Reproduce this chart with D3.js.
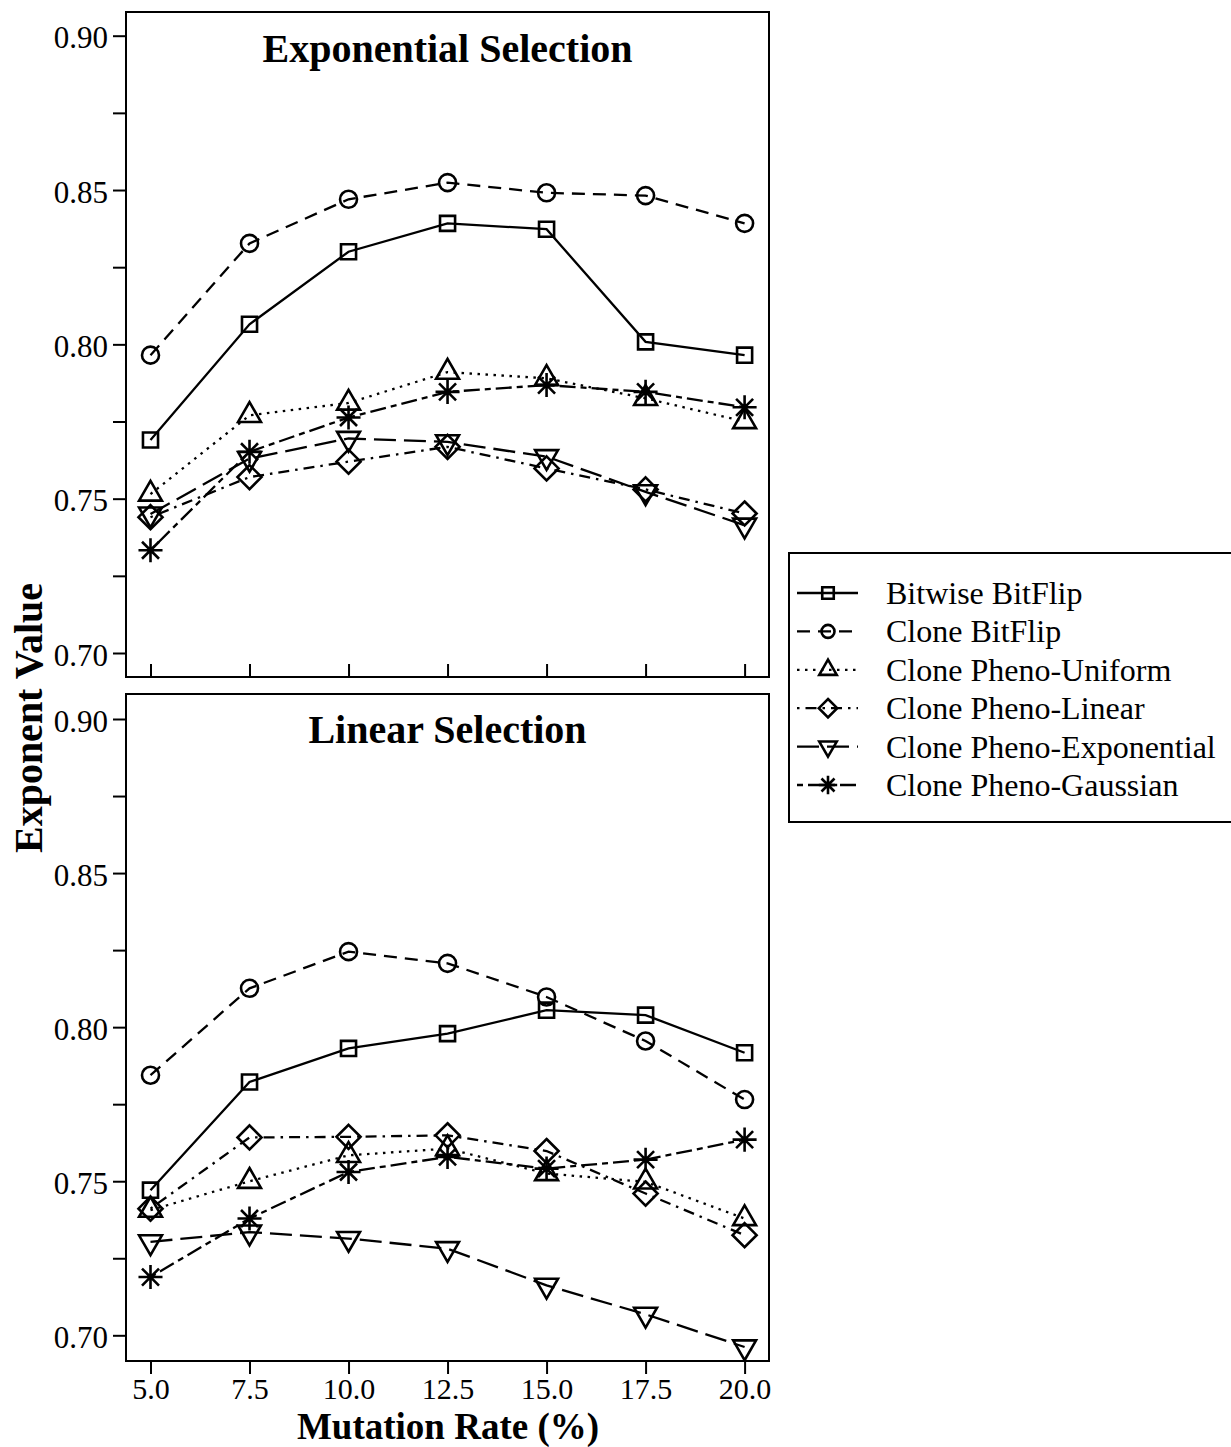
<!DOCTYPE html>
<html>
<head>
<meta charset="utf-8">
<script src="https://cdn.jsdelivr.net/npm/d3@7"></script>
<style>
  html, body { margin: 0; padding: 0; background: #fff; }
  svg { display: block; }
  text { font-family: "Liberation Serif", "Times New Roman", serif; fill: #000; }
</style>
</head>
<body>
<svg id="chart" width="1231" height="1447"></svg>
<script>
// Mutation rates (%) on the x axis
const rates = [5.0, 7.5, 10.0, 12.5, 15.0, 17.5, 20.0];

// Series names
const seriesNames = [
  "Bitwise BitFlip",
  "Clone BitFlip",
  "Clone Pheno-Uniform",
  "Clone Pheno-Linear",
  "Clone Pheno-Exponential",
  "Clone Pheno-Gaussian"
];

// Exponential selection
const expBitwiseBitFlip   = [0.769, 0.8065, 0.830, 0.8392, 0.8373, 0.8008, 0.7965];
const expCloneBitFlip     = [0.7965, 0.8327, 0.847, 0.8524, 0.8491, 0.8482, 0.8392];
const expPhenoUniform     = [0.7515, 0.777, 0.781, 0.791, 0.789, 0.7825, 0.775];
const expPhenoLinear      = [0.744, 0.757, 0.762, 0.7668, 0.7598, 0.753, 0.7452];
const expPhenoExponential = [0.745, 0.763, 0.7695, 0.7684, 0.7636, 0.7522, 0.7414];
const expPhenoGaussian    = [0.7333, 0.7652, 0.7763, 0.7846, 0.7868, 0.7846, 0.7796];

// Linear selection
const linBitwiseBitFlip   = [0.7471, 0.7822, 0.7931, 0.7979, 0.8055, 0.8039, 0.7917];
const linCloneBitFlip     = [0.7844, 0.8126, 0.8245, 0.8207, 0.8098, 0.7955, 0.7765];
const linPhenoUniform     = [0.7406, 0.7500, 0.7584, 0.7606, 0.7525, 0.7498, 0.7379];
const linPhenoLinear      = [0.7411, 0.7642, 0.7644, 0.7649, 0.7598, 0.746, 0.7325];
const linPhenoExponential = [0.7303, 0.7335, 0.7314, 0.7281, 0.7162, 0.7068, 0.6962];
const linPhenoGaussian    = [0.7189, 0.7379, 0.753, 0.7579, 0.7541, 0.757, 0.7635];

// Axis ticks
const yTicks = [0.70, 0.725, 0.75, 0.775, 0.80, 0.825, 0.85, 0.875, 0.90];
const yTickLabels = ["0.70", "", "0.75", "", "0.80", "", "0.85", "", "0.90"];
const xTickLabels = ["5.0", "7.5", "10.0", "12.5", "15.0", "17.5", "20.0"];

// Panel titles and axis titles
const panelTitles = ["Exponential Selection", "Linear Selection"];
const xTitle = "Mutation Rate (%)";
const yTitle = "Exponent Value";

// ---- styling ----
const dashes = [null, "13,8", "2.5,5.5", "2.5,6,11,6", "22,8", "6,5,16,5"];
const markers = ["square", "circle", "triangle", "diamond", "triangleDown", "asterisk"];

const svg = d3.select("#chart");
svg.append("rect").attr("width", 1231).attr("height", 1447).attr("fill", "#fff");

const boxLeft = 126, boxRight = 769;
const panels = [
  { top: 12, bottom: 677, yRange: [653, 35.7], titleY: 62, inwardTicks: true,
    data: [expBitwiseBitFlip, expCloneBitFlip, expPhenoUniform, expPhenoLinear, expPhenoExponential, expPhenoGaussian] },
  { top: 694, bottom: 1361, yRange: [1335.3, 719], titleY: 743, inwardTicks: false,
    data: [linBitwiseBitFlip, linCloneBitFlip, linPhenoUniform, linPhenoLinear, linPhenoExponential, linPhenoGaussian] }
];

const x = d3.scaleLinear().domain([5, 20]).range([150.5, 744.6]);

// Marker path generator; s is the base symbol radius
function markerPath(type, s) {
  const p = d3.path();
  switch (type) {
    case "square": {
      const h = 0.886 * s;
      p.rect(-h, -h, 2 * h, 2 * h);
      break;
    }
    case "circle":
      p.moveTo(s, 0); p.arc(0, 0, s, 0, 2 * Math.PI); p.closePath();
      break;
    case "triangle": {
      const r = 1.555 * s, xc = 1.347 * s, yc = 0.778 * s;
      p.moveTo(0, -r); p.lineTo(xc, yc); p.lineTo(-xc, yc); p.closePath();
      break;
    }
    case "triangleDown": {
      const r = 1.555 * s, xc = 1.347 * s, yc = 0.778 * s;
      p.moveTo(0, r); p.lineTo(xc, -yc); p.lineTo(-xc, -yc); p.closePath();
      break;
    }
    case "diamond": {
      const d = 1.414 * s;
      p.moveTo(0, -d); p.lineTo(d, 0); p.lineTo(0, d); p.lineTo(-d, 0); p.closePath();
      break;
    }
    case "asterisk": {
      const a = s, b = 1.414 * s;
      p.moveTo(-a, -a); p.lineTo(a, a);
      p.moveTo(-a, a); p.lineTo(a, -a);
      p.moveTo(-b, 0); p.lineTo(b, 0);
      p.moveTo(0, -b); p.lineTo(0, b);
      break;
    }
  }
  return p.toString();
}

const symbolSize = 8.5;

panels.forEach((panel, pi) => {
  const y = d3.scaleLinear().domain([0.70, 0.90]).range(panel.yRange);
  const g = svg.append("g");

  // y axis ticks and labels
  const yAxis = d3.axisLeft(y)
    .tickValues(yTicks)
    .tickSize(13)
    .tickPadding(5)
    .tickFormat((d, i) => yTickLabels[i]);
  const ya = g.append("g").attr("transform", `translate(${boxLeft},0)`).call(yAxis);
  ya.select(".domain").remove();
  ya.selectAll(".tick line").attr("stroke", "#000").attr("stroke-width", 2);
  ya.selectAll(".tick text")
    .attr("dy", "0.39em")
    .style("font-family", '"Liberation Serif", "Times New Roman", serif')
    .style("font-size", "31px").attr("fill", "#000");

  // x axis ticks
  if (panel.inwardTicks) {
    const xAxis = d3.axisBottom(x).tickValues(rates).tickSize(-13).tickFormat("");
    const xa = g.append("g").attr("transform", `translate(0,${panel.bottom})`).call(xAxis);
    xa.select(".domain").remove();
    xa.selectAll(".tick line").attr("stroke", "#000").attr("stroke-width", 2);
  } else {
    const xAxis = d3.axisBottom(x).tickValues(rates).tickSize(13).tickPadding(4)
      .tickFormat((d, i) => xTickLabels[i]);
    const xa = g.append("g").attr("transform", `translate(0,${panel.bottom})`).call(xAxis);
    xa.select(".domain").remove();
    xa.selectAll(".tick line").attr("stroke", "#000").attr("stroke-width", 2);
    xa.selectAll(".tick text")
      .style("font-family", '"Liberation Serif", "Times New Roman", serif')
      .style("font-size", "30px").attr("fill", "#000");
  }

  // frame
  g.append("rect")
    .attr("x", boxLeft).attr("y", panel.top)
    .attr("width", boxRight - boxLeft).attr("height", panel.bottom - panel.top)
    .attr("fill", "none").attr("stroke", "#000").attr("stroke-width", 2);

  // title
  g.append("text")
    .attr("x", (boxLeft + boxRight) / 2).attr("y", panel.titleY)
    .attr("text-anchor", "middle")
    .style("font-size", "40px").style("font-weight", "bold")
    .text(panelTitles[pi]);

  // series: line then markers
  const line = d3.line().x((d, i) => x(rates[i])).y(d => y(d));
  panel.data.forEach((vals, si) => {
    const sg = g.append("g");
    sg.append("path")
      .attr("d", line(vals))
      .attr("fill", "none").attr("stroke", "#000").attr("stroke-width", 2.3)
      .attr("stroke-dasharray", dashes[si]);
    sg.selectAll("path.mark").data(vals).join("path")
      .attr("class", "mark")
      .attr("transform", (d, i) => `translate(${x(rates[i])},${y(d)})`)
      .attr("d", markerPath(markers[si], symbolSize))
      .attr("fill", "none").attr("stroke", "#000").attr("stroke-width", 2.6);
  });
});

// axis titles
svg.append("text")
  .attr("x", 448).attr("y", 1439)
  .attr("text-anchor", "middle")
  .style("font-size", "37px").style("font-weight", "bold")
  .text(xTitle);

svg.append("text")
  .attr("transform", "translate(42,718) rotate(-90)")
  .attr("text-anchor", "middle")
  .style("font-size", "40px").style("font-weight", "bold")
  .text(yTitle);

// legend
const legend = svg.append("g");
legend.append("rect")
  .attr("x", 789).attr("y", 553).attr("width", 470).attr("height", 269)
  .attr("fill", "#fff").attr("stroke", "#000").attr("stroke-width", 2);

const legendRowY = d3.scaleLinear().domain([0, 5]).range([593, 785]);
seriesNames.forEach((name, i) => {
  const yy = legendRowY(i);
  legend.append("line")
    .attr("x1", 797).attr("x2", 858).attr("y1", yy).attr("y2", yy)
    .attr("stroke", "#000").attr("stroke-width", 2.3)
    .attr("stroke-dasharray", dashes[i]);
  legend.append("path")
    .attr("transform", `translate(828,${yy})`)
    .attr("d", markerPath(markers[i], 6.5))
    .attr("fill", "none").attr("stroke", "#000").attr("stroke-width", 2.6);
  legend.append("text")
    .attr("x", 886).attr("y", yy + 11)
    .style("font-size", "32px")
    .text(name);
});
</script>
</body>
</html>
